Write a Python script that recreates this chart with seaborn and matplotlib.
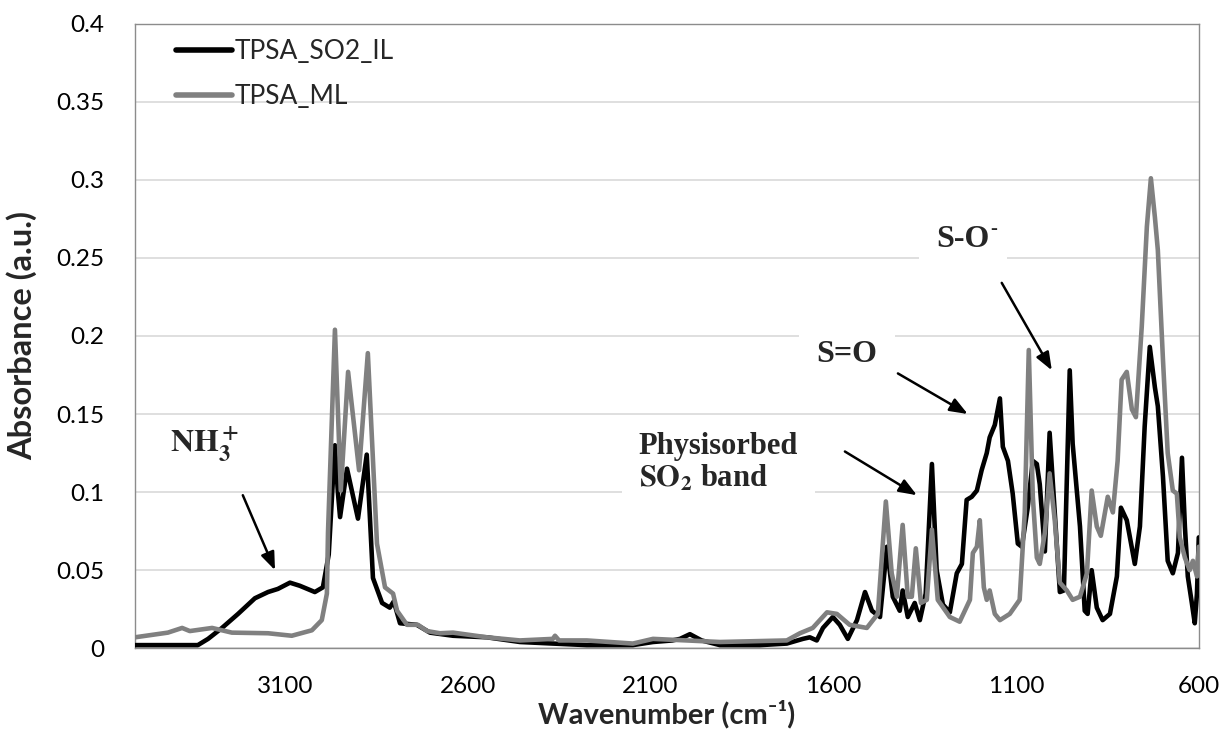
import numpy as np
import pandas as pd
import matplotlib
matplotlib.use("Agg")
import matplotlib.pyplot as plt
import seaborn as sns

# ---- spectra (wavenumber in cm-1, absorbance in a.u.) ----
il_wavenumber = [3510, 3400, 3338, 3310, 3272, 3228, 3182, 3146, 3119, 3086, 3059, 3018, 2996,
                 2980, 2968, 2963, 2955, 2949, 2930, 2900, 2876, 2859, 2834, 2813, 2802, 2785,
                 2739, 2703, 2640, 2547, 2457, 2367, 2274, 2148, 2093, 2040, 2019, 1992, 1960,
                 1910, 1800, 1727, 1683, 1664, 1645, 1628, 1601, 1582, 1560, 1535, 1513, 1494,
                 1472, 1453, 1437, 1418, 1410, 1396, 1377, 1363, 1347, 1330, 1317, 1300, 1281,
                 1262, 1248, 1235, 1221, 1207, 1194, 1180, 1172, 1158, 1144, 1136, 1122, 1109,
                 1095, 1084, 1068, 1054, 1043, 1035, 1021, 1008, 994, 980, 969, 953, 945, 925,
                 912, 904, 893, 879, 863, 843, 824, 813, 797, 775, 761, 748, 734, 720, 712, 698,
                 685, 671, 657, 646, 638, 630, 619, 611, 605, 600]
il_absorbance = [0.002, 0.002, 0.002, 0.006, 0.013, 0.022, 0.032, 0.036, 0.038, 0.042, 0.040, 0.036, 0.039,
                 0.060, 0.110, 0.130, 0.100, 0.084, 0.115, 0.083, 0.124, 0.045, 0.029, 0.026, 0.030, 0.016,
                 0.015, 0.010, 0.008, 0.007, 0.004, 0.003, 0.002, 0.002, 0.004, 0.005, 0.006, 0.009, 0.005,
                 0.002, 0.002, 0.003, 0.006, 0.007, 0.005, 0.013, 0.020, 0.015, 0.006, 0.018, 0.036, 0.024,
                 0.020, 0.065, 0.033, 0.024, 0.037, 0.020, 0.029, 0.018, 0.035, 0.118, 0.050, 0.028, 0.023,
                 0.048, 0.054, 0.095, 0.097, 0.101, 0.114, 0.125, 0.135, 0.143, 0.160, 0.129, 0.120, 0.099,
                 0.067, 0.065, 0.090, 0.120, 0.118, 0.105, 0.062, 0.138, 0.087, 0.036, 0.037, 0.178, 0.131, 0.078,
                 0.024, 0.022, 0.050, 0.026, 0.018, 0.022, 0.046, 0.090, 0.082, 0.054, 0.078, 0.142, 0.193, 0.167, 0.155, 0.110,
                 0.056, 0.048, 0.061, 0.122, 0.078, 0.046, 0.029, 0.016, 0.035, 0.071]

ml_wavenumber = [3510, 3420, 3381, 3360, 3299, 3245, 3146, 3081, 3026, 2999, 2985, 2982, 2963,
                 2947, 2927, 2897, 2873, 2848, 2826, 2804, 2793, 2766, 2736, 2711, 2676, 2640,
                 2547, 2457, 2367, 2361, 2350, 2274, 2148, 2093, 1910, 1727, 1691, 1656, 1617,
                 1590, 1555, 1508, 1478, 1456, 1440, 1426, 1410, 1396, 1385, 1374, 1360, 1344,
                 1330, 1314, 1281, 1254, 1226, 1218, 1207, 1199, 1188, 1180, 1172, 1158, 1144,
                 1117, 1090, 1076, 1065, 1054, 1043, 1035, 1021, 1008, 994, 980, 961, 945, 925,
                 906, 893, 879, 868, 849, 835, 822, 811, 797, 783, 772, 756, 742, 731, 720, 712,
                 698, 685, 671, 660, 652, 638, 625, 616, 605, 600]
ml_absorbance = [0.007, 0.010, 0.013, 0.011, 0.013, 0.010, 0.0096, 0.008, 0.0115, 0.018, 0.035, 0.074, 0.204,
                 0.101, 0.177, 0.114, 0.189, 0.067, 0.039, 0.035, 0.024, 0.015, 0.015, 0.011, 0.0096, 0.010,
                 0.007, 0.005, 0.006, 0.008, 0.005, 0.005, 0.003, 0.006, 0.004, 0.005, 0.0096, 0.013, 0.023,
                 0.022, 0.015, 0.013, 0.022, 0.094, 0.048, 0.033, 0.079, 0.033, 0.033, 0.064, 0.029, 0.031,
                 0.076, 0.031, 0.020, 0.017, 0.031, 0.061, 0.065, 0.082, 0.039, 0.031, 0.037, 0.022, 0.018,
                 0.022, 0.031, 0.087, 0.191, 0.097, 0.058, 0.054, 0.074, 0.112, 0.082, 0.042, 0.037, 0.031, 0.033,
                 0.048, 0.101, 0.078, 0.072, 0.097, 0.087, 0.120, 0.172, 0.177, 0.153, 0.148, 0.206, 0.270, 0.301, 0.276, 0.255,
                 0.185, 0.125, 0.101, 0.099, 0.071, 0.058, 0.050, 0.056, 0.046, 0.065]

series_names = ["TPSA_SO2_IL", "TPSA_ML"]
series_colors = ["#000000", "#808080"]
x_ticks = [3100, 2600, 2100, 1600, 1100, 600]
y_ticks = [0, 0.05, 0.1, 0.15, 0.2, 0.25, 0.3, 0.35, 0.4]

df = pd.concat([
    pd.DataFrame({"wn": il_wavenumber, "A": il_absorbance, "sample": series_names[0]}),
    pd.DataFrame({"wn": ml_wavenumber, "A": ml_absorbance, "sample": series_names[1]}),
], ignore_index=True)

sns.set_theme(style="white")
plt.rcParams["font.family"] = ["Lato", "DejaVu Sans"]
plt.rcParams["mathtext.fontset"] = "stix"

fig = plt.figure(figsize=(12.27, 7.40), dpi=100)
ax = fig.add_axes([0.110, 0.124, 0.867, 0.844])

sns.lineplot(data=df, x="wn", y="A", hue="sample", hue_order=series_names,
             palette=dict(zip(series_names, series_colors)), linewidth=3.3,
             estimator=None, ax=ax, zorder=3)
for ln in ax.get_lines():
    ln.set_solid_joinstyle("round")

ax.set_xlim(3510, 600)
ax.set_ylim(0, 0.4)
ax.set_xticks(x_ticks)
ax.set_yticks(y_ticks)
ax.set_yticklabels([f"{v:g}" for v in y_ticks])
ax.tick_params(axis="both", length=0, labelsize=17.5, colors="black")
ax.tick_params(axis="y", pad=22)
ax.tick_params(axis="x", pad=20)
ax.yaxis.grid(True, color="#d9d9d9", linewidth=1.2, zorder=0)
ax.xaxis.grid(False)
for s in ax.spines.values():
    s.set_color("#8c8c8c")
    s.set_linewidth(1.0)

ax.set_xlabel("Wavenumber (cm\u207b\u00b9)", fontsize=21, fontweight="bold", labelpad=2)
ax.set_ylabel("Absorbance (a.u.)", fontsize=23.5, fontweight="bold", labelpad=14)

leg = ax.legend(loc="upper left", frameon=False, fontsize=19, handlelength=2.1,
                handletextpad=0.1, labelspacing=0.75, borderaxespad=0.0,
                bbox_to_anchor=(0.029, 0.992))
for line in leg.get_lines():
    line.set_linewidth(4.0)

serif = "Liberation Serif"
box = dict(facecolor="white", edgecolor="none", boxstyle="square,pad=0.55")
arrow = dict(arrowstyle="-|>,head_length=0.9,head_width=0.35", color="black", lw=1.8,
             shrinkA=0, shrinkB=0)

ax.text(3319, 0.130, r"$\mathbf{NH_3^+}$", fontsize=23, ha="center", va="center",
        zorder=4)
ax.annotate("", xy=(3127, 0.050), xytext=(3215, 0.098), arrowprops=arrow, zorder=4)

ax.text(2132, 0.119, "Physisorbed\n" + r"$\mathbf{SO_2}$" + " band", family=serif,
        fontweight="bold", fontsize=22, ha="left", va="center", linespacing=1.1,
        bbox=box, zorder=2)
ax.annotate("", xy=(1371, 0.098), xytext=(1568, 0.126), arrowprops=arrow, zorder=4)

ax.text(1563, 0.188, "S=O", family=serif, fontweight="bold", fontsize=23,
        ha="center", va="center", bbox=box, zorder=2)
ax.annotate("", xy=(1232, 0.150), xytext=(1423, 0.176), arrowprops=arrow, zorder=4)

ax.text(1245, 0.262, "S-O", family=serif, fontweight="bold",
        fontsize=23, ha="center", va="center", bbox=box, zorder=2)
ax.annotate("-", xy=(1245, 0.262), xytext=(19.5, 7), textcoords="offset points",
            family=serif, fontweight="bold", fontsize=15, ha="left", va="center", zorder=4)
ax.annotate("", xy=(1002, 0.178), xytext=(1139, 0.234), arrowprops=arrow, zorder=4)

fig.savefig("out.png", dpi=100)
